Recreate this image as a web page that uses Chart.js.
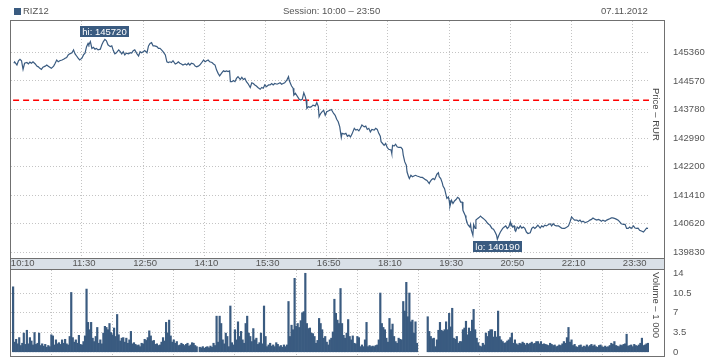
<!DOCTYPE html>
<html><head><meta charset="utf-8">
<script src="https://cdn.jsdelivr.net/npm/chart.js@4.4.0/dist/chart.umd.min.js"></script>
<style>
html,body{margin:0;padding:0;background:#fff;}
#wrap{position:relative;width:718px;height:360px;overflow:hidden;font-family:'Liberation Sans',Arial,sans-serif;font-size:9.5px;color:#555;}
canvas{position:absolute;left:0;top:0;}
.t{position:absolute;white-space:nowrap;line-height:12px;}
</style></head><body>
<div id="wrap">
<canvas id="pc" width="718" height="360"></canvas>
<canvas id="vc" width="718" height="360"></canvas>
<div class="t" style="left:14px;top:8px;width:7px;height:7px;background:#3a5b80"></div>
<div class="t" id="hInst" style="left:23px;top:5px"></div>
<div class="t" id="hSess" style="left:283px;top:5px"></div>
<div class="t" id="hDate" style="left:601px;top:5px"></div>
</div>
<script>
// ---- header texts ----
const instrument = 'RIZ12';
const sessionText = 'Session: 10:00 – 23:50';
const dateText = '07.11.2012';
const priceTitle = 'Price – RUR';
const volumeTitle = 'Volume – 1 000';

// ---- price series: minutes after 10:00, price in RUR ----
const priceMinutes = [1,2,5,7,9,11,13,15,18,20,22,24,26,29,31,33,35,37,39,42,44,46,48,50,53,55,57,59,61,64,66,68,70,72,74,77,79,81,83,85,87,90,92,94,96,98,99,101,103,105,107,109,111,114,116,118,120,122,124,127,129,131,133,135,138,140,142,144,146,148,151,153,155,157,159,162,164,166,168,170,172,175,177,179,181,183,185,188,190,192,194,196,199,201,203,205,207,209,212,214,216,218,220,222,225,227,229,231,233,236,238,240,242,244,246,249,251,253,255,257,260,262,264,266,268,270,273,275,277,279,281,283,284,286,288,290,292,294,297,299,301,303,305,307,310,312,314,316,318,320,323,325,327,329,331,334,336,338,340,342,345,347,349,351,353,355,358,360,361,363,364,366,367,369,372,374,376,378,380,382,383,384,386,388,390,392,395,397,399,400,402,404,406,408,410,412,414,416,419,421,423,425,427,429,430,433,435,437,439,441,443,446,448,450,452,454,456,459,461,463,465,467,469,472,474,476,478,480,481,483,485,487,489,491,494,495,496,498,500,502,504,507,509,510,512,514,515,517,518,520,522,524,526,528,531,533,535,537,539,541,544,545,547,549,551,554,556,557,559,561,562,564,565,567,569,570,571,573,575,577,579,581,583,585,587,588,591,592,594,595,597,598,599,601,602,604,605,607,609,611,613,616,618,620,622,623,626,628,630,632,633,635,637,640,642,644,646,648,650,651,652,653,655,656,657,659,661,663,665,667,669,671,673,676,678,680,682,684,686,689,691,693,695,697,700,702,704,706,708,710,713,715,717,719,721,724,726,728,730,732,734,737,739,741,743,745,748,750,752,754,756,758,761,763,765,767,769,771,774,776,778,780,782,784,787,789,791,793,795,798,800,802,804,806,808,811,813,815,817,819,822,824,826,828,830];
const priceValues = [145060,145100,145010,145130,145170,145130,144890,145060,145080,145040,145090,145060,145100,145040,144980,144960,144920,144890,144950,144980,145010,144980,144950,144920,144980,145060,145150,145100,145130,145150,145170,145200,145220,145290,145320,145350,145430,145320,145260,145200,145150,145200,145290,145340,145520,145610,145570,145660,145470,145500,145450,145470,145430,145450,145570,145660,145720,145680,145570,145520,145540,145410,145320,145350,145430,145380,145320,145380,145290,145340,145320,145350,145340,145410,145430,145320,145260,145380,145350,145380,145410,145350,145540,145610,145630,145540,145540,145520,145470,145470,145430,145380,145290,145100,145080,145100,145080,145130,145040,145060,145100,145060,145040,145010,145040,145010,145060,145010,145060,145040,144980,144960,144980,145010,145060,145150,145100,145130,145150,145100,145080,145040,145010,144870,144780,144710,144800,144850,144830,144850,144830,144850,144550,144550,144580,144550,144640,144690,144610,144670,144610,144640,144550,144500,144390,144520,144500,144460,144430,144390,144340,144390,144370,144460,144410,144460,144460,144500,144460,144500,144480,144500,144520,144480,144500,144520,144600,144690,144580,144480,144430,144370,144180,144230,144130,144060,144040,144060,144240,144130,144040,143810,143860,143840,143860,143900,143880,143970,143860,143580,143670,143720,143760,143620,143720,143740,143760,143780,143670,143620,143510,143440,143300,143010,143120,143100,143120,143040,143070,143020,143100,143260,143210,143230,143190,143260,143350,143300,143320,143230,143260,143160,143230,143210,143260,143230,143120,143040,142890,142840,142790,142840,142730,142680,142660,142560,142790,142770,142820,142750,142730,142730,142680,142520,142330,142240,142050,141920,141870,141960,141920,141940,141960,141940,141920,141900,141900,141870,141840,141820,141730,141780,141840,141870,141840,141990,142030,141920,141870,141750,141660,141590,141500,141320,141360,141270,141100,141270,141180,141250,141290,141350,141320,141220,141220,140990,140850,140760,140620,140580,140530,140600,140440,140300,140600,140490,140720,140760,140790,140830,140790,140740,140700,140640,140600,140590,140490,140470,140390,140300,140190,140300,140390,140490,140530,140560,140490,140530,140670,140560,140580,140530,140560,140440,140410,140530,140490,140560,140500,140530,140490,140390,140350,140370,140490,140530,140490,140530,140580,140500,140560,140530,140580,140560,140600,140620,140560,140620,140580,140560,140560,140530,140500,140490,140490,140530,140560,140670,140810,140760,140720,140720,140690,140720,140670,140690,140650,140670,140690,140720,140740,140780,140740,140720,140740,140720,140690,140720,140690,140720,140740,140760,140780,140780,140760,140740,140720,140670,140620,140600,140600,140490,140490,140530,140490,140560,140500,140490,140500,140440,140410,140390,140440,140500,140490];
const refPrice = 144035;

// ---- volume series: thousands of contracts, one bar per 2 minutes from 10:00 (null = no trades) ----
const volumeStepMinutes = 2;
const volumeValues = [
11.6,1.8,2.3,1.5,2.6,1.2,1.6,3.4,1.4,3.9, 1.5,2.6,2.0,1.3,3.5,1.4,1.6,3.4,1.2,1.5,
1.1,1.4,0.9,1.2,1.0,3.1,2.9,1.3,2.2,1.5, 1.7,1.4,2.2,1.6,2.3,1.5,1.3,2.8,10.6,2.6,
1.8,2.2,1.6,3.0,1.4,1.3,1.9,2.9,11.2,5.3, 4.0,5.3,2.5,1.9,2.8,4.4,1.6,2.2,1.5,3.4,
4.6,4.4,4.0,5.1,3.5,3.1,4.3,2.8,6.7,3.1, 2.0,2.5,2.6,1.8,2.5,1.6,2.2,3.7,1.5,1.7,
1.4,1.2,1.3,1.0,1.6,1.5,2.3,2.1,2.6,3.8, 2.9,2.0,2.1,1.4,1.5,1.2,1.3,1.8,2.6,2.0,
5.3,3.4,5.7,2.9,1.8,2.2,1.6,1.9,1.2,1.3, 1.6,1.4,1.2,1.4,1.6,1.1,1.3,1.7,1.6,1.2,
1.0,null,0.9,0.8,1.0,0.7,0.9,1.0,0.8,1.1, 0.9,1.6,1.2,6.4,1.8,6.4,5.1,2.2,1.5,3.4,
2.8,1.0,8.2,1.7,1.3,4.0,2.2,5.4,2.8,3.7, 2.2,1.6,5.1,6.4,3.4,2.8,1.9,4.2,2.2,2.5,
1.4,1.7,3.4,1.5,8.2,2.8,1.0,1.3,1.6,1.1, 1.3,1.0,1.7,1.4,1.0,1.2,0.9,1.3,1.0,1.3,
9.0,2.8,4.8,4.0,13.1,4.6,5.1,4.4,5.6,7.0, 7.2,14.0,5.1,4.2,4.3,3.4,3.3,2.8,1.6,2.1,
6.0,5.1,4.0,2.5,2.8,1.8,1.3,2.2,2.5,3.6, 9.4,6.9,5.7,5.1,11.3,5.1,3.0,2.5,3.4,5.8,
2.8,2.2,2.9,1.6,1.5,2.8,2.6,1.0,1.3,1.0, 2.2,5.3,1.0,1.2,1.0,1.1,1.0,1.2,1.3,2.2,
10.5,5.1,4.4,4.0,2.5,1.8,6.0,4.0,5.0,2.8, 1.9,1.6,2.5,2.3,2.2,9.0,7.3,12.4,6.3,10.5,
5.4,5.7,3.4,5.4,1.6,null,null,null,null,null, null,6.3,3.7,2.8,2.4,2.5,1.0,2.2,3.9,5.3,
3.9,3.7,4.0,5.4,4.0,6.9,4.5,7.8,2.5,2.3, 2.8,1.6,1.9,1.9,4.0,4.3,5.5,3.1,4.3,3.7,
5.7,7.6,4.0,2.5,1.7,1.1,1.0,1.6,1.3,3.4, 2.8,3.7,4.0,4.0,2.7,3.7,2.7,7.3,2.8,2.2,
1.9,1.6,1.7,2.0,2.2,2.6,3.4,1.6,2.2,1.5, 1.3,1.6,1.5,1.8,1.6,1.3,1.6,1.4,1.6,1.8,
1.5,1.6,1.9,1.9,1.5,1.9,1.4,1.5,1.4,1.3, 1.2,1.6,1.4,1.2,1.3,1.0,1.1,1.3,1.2,1.5,
1.9,1.6,2.6,4.4,1.8,2.2,1.2,1.4,1.0,0.9, 1.2,1.3,0.9,1.1,1.0,1.3,1.0,1.2,1.4,1.1,
1.3,1.0,0.9,1.2,1.3,1.0,0.9,1.1,0.9,1.0, 1.2,1.6,1.4,1.9,1.2,1.1,1.0,1.3,1.2,1.4,
1.5,3.2,1.1,1.2,1.3,1.0,1.4,1.2,1.1,1.3, 1.6,2.5,1.2,1.3,1.5,1.6];

// ---- axis ticks ----
const timeTickMinutes = [10,90,170,250,330,410,490,570,650,730,810];
const timeTickLabels = ['10:10','11:30','12:50','14:10','15:30','16:50','18:10','19:30','20:50','22:10','23:30'];
const priceTicks = [139830,140620,141410,142200,142990,143780,144570,145360];
const volumeTicks = [0,3.5,7,10.5,14];
const volumeTickLabels = ['0','3.5','7','10.5','14'];

document.getElementById('hInst').textContent = instrument;
document.getElementById('hSess').textContent = sessionText;
document.getElementById('hDate').textContent = dateText;

const BLUE = '#3a5b80';
const GRID = '#c4c4c4';
const TXT = '#555555';
const FAM = "'Liberation Sans', Arial, sans-serif";
const FONT = {family: FAM, size: 9.5};
const X_MIN = -2.75, X_MAX = 831.25;

const xGridColor = c => (c.tick && c.tick.value === timeTickMinutes[0]) ? 'rgba(0,0,0,0)' : GRID;
const fitX = h => s => { s.height = h; s.paddingLeft = 0; s.paddingRight = 0; };
const fitY = s => { s.width = 69; s.paddingTop = 0; s.paddingBottom = 0; };

const framePlugin = {
  id: 'frame',
  beforeDraw(chart) {
    const ctx = chart.ctx;
    ctx.save();
    ctx.fillStyle = '#d9e0e7';
    ctx.fillRect(11, 259, 653, 10);
    ctx.restore();
  },
  afterDatasetsDraw(chart) {
    const ctx = chart.ctx, xs = chart.scales.x, ys = chart.scales.y;
    const hiV = Math.max(...priceValues), loV = Math.min(...priceValues);
    const iHi = priceValues.indexOf(hiV), iLo = priceValues.indexOf(loV);
    ctx.save();
    ctx.font = '9.5px ' + FAM;
    ctx.textBaseline = 'middle';
    ctx.textAlign = 'center';
    const drawBox = (txt, px, py, above) => {
      const w = Math.round(ctx.measureText(txt).width + 5), h = 11;
      const x0 = Math.round(px - w / 2);
      const y0 = above ? Math.round(py - 2 - h) : Math.round(py + 2);
      ctx.fillStyle = BLUE;
      ctx.fillRect(x0, y0, w, h);
      ctx.fillStyle = '#ffffff';
      ctx.fillText(txt, x0 + w / 2, y0 + h / 2 + 0.5);
    };
    drawBox('hi: ' + hiV, xs.getPixelForValue(priceMinutes[iHi]), ys.getPixelForValue(hiV), true);
    drawBox('lo: ' + loV, xs.getPixelForValue(priceMinutes[iLo]), ys.getPixelForValue(loV), false);
    ctx.restore();
  },
  afterDraw(chart) {
    const ctx = chart.ctx;
    ctx.save();
    ctx.strokeStyle = '#707070';
    ctx.lineWidth = 1;
    ctx.strokeRect(10.5, 20.5, 654, 336);
    ctx.beginPath();
    ctx.moveTo(10, 258.5); ctx.lineTo(665, 258.5);
    ctx.moveTo(10, 269.5); ctx.lineTo(665, 269.5);
    ctx.stroke();
    ctx.fillStyle = '#444';
    ctx.font = '9.5px ' + FAM;
    ctx.textAlign = 'left';
    ctx.textBaseline = 'middle';
    ctx.translate(656, 88);
    ctx.rotate(Math.PI / 2);
    ctx.fillText(priceTitle, 0, 0);
    ctx.restore();
    ctx.save();
    ctx.fillStyle = '#444';
    ctx.font = '9.5px ' + FAM;
    ctx.textAlign = 'left';
    ctx.textBaseline = 'middle';
    ctx.translate(656, 272);
    ctx.rotate(Math.PI / 2);
    ctx.fillText(volumeTitle, 0, 0);
    ctx.restore();
  }
};

new Chart(document.getElementById('pc'), {
  type: 'line',
  data: {datasets: [
    {data: priceMinutes.map((m, i) => ({x: m, y: priceValues[i]})), borderColor: BLUE, borderWidth: 1.2, pointRadius: 0, tension: 0, fill: false},
    {data: [{x: 0, y: refPrice}, {x: X_MAX, y: refPrice}], borderColor: '#ff0000', borderWidth: 1.6, borderDash: [6, 4], pointRadius: 0, fill: false}
  ]},
  options: {
    responsive: false, animation: false, events: [],
    layout: {padding: {left: 11, top: 21, right: 0, bottom: 91}},
    plugins: {legend: {display: false}, tooltip: {enabled: false}},
    scales: {
      x: {type: 'linear', min: X_MIN, max: X_MAX,
        afterFit: fitX(11),
        afterBuildTicks: s => { s.ticks = timeTickMinutes.map(v => ({value: v})); },
        ticks: {autoSkip: false, maxRotation: 0, padding: 0, color: TXT, font: FONT, labelOffset: 2,
          callback: (v, i) => timeTickLabels[i]},
        grid: {drawTicks: false, color: xGridColor, lineWidth: 1},
        border: {display: false, dash: [1, 2]}},
      y: {position: 'right', min: 139672, max: 146229,
        afterFit: fitY,
        afterBuildTicks: s => { s.ticks = priceTicks.map(v => ({value: v})); },
        ticks: {padding: 24, color: TXT, font: FONT, callback: v => String(v)},
        grid: {drawTicks: false, color: GRID, lineWidth: 1},
        border: {display: false, dash: [1, 2]}}
    }
  },
  plugins: [framePlugin]
});

const volData = [];
volumeValues.forEach((v, i) => { if (v !== null) volData.push({x: i * volumeStepMinutes, y: v}); });

new Chart(document.getElementById('vc'), {
  type: 'bar',
  data: {datasets: [{data: volData, backgroundColor: BLUE, borderWidth: 0, barPercentage: 1, categoryPercentage: 1}]},
  options: {
    responsive: false, animation: false, events: [],
    layout: {padding: {left: 11, top: 270, right: 0, bottom: 4}},
    plugins: {legend: {display: false}, tooltip: {enabled: false}},
    scales: {
      x: {type: 'linear', min: X_MIN, max: X_MAX, offset: false,
        afterFit: fitX(0),
        afterBuildTicks: s => { s.ticks = timeTickMinutes.map(v => ({value: v})); },
        ticks: {display: false},
        grid: {drawTicks: false, color: xGridColor, lineWidth: 1},
        border: {display: false, dash: [1, 2]}},
      y: {position: 'right', min: -0.66, max: 14.58,
        afterFit: fitY,
        afterBuildTicks: s => { s.ticks = volumeTicks.map(v => ({value: v})); },
        ticks: {padding: 24, color: TXT, font: FONT, callback: (v, i) => volumeTickLabels[i]},
        grid: {drawTicks: false, lineWidth: 1,
          color: c => (c.tick && (c.tick.value === 0 || c.tick.value === 14)) ? 'rgba(0,0,0,0)' : GRID},
        border: {display: false, dash: [1, 2]}}
    }
  }
});
</script>
</body></html>
